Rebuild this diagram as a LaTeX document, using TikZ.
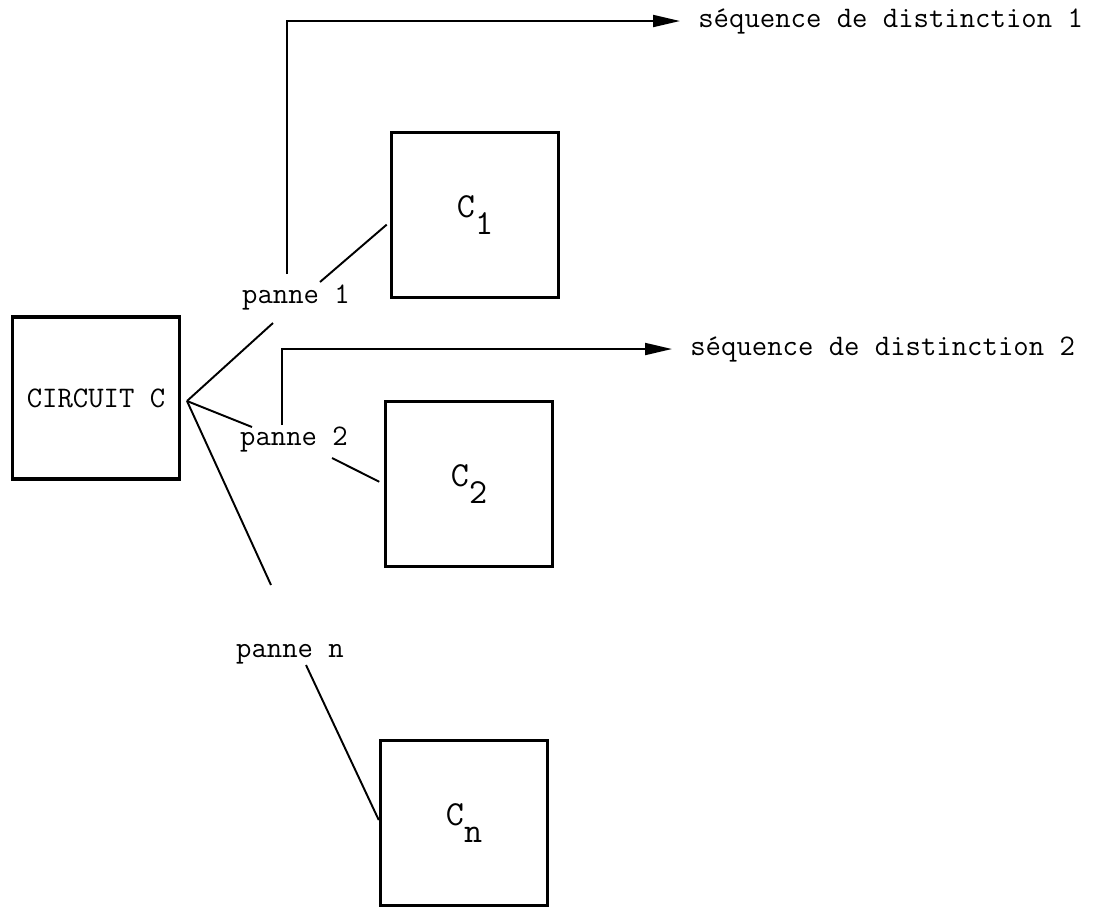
\documentclass[tikz,border=0pt]{standalone}
\usetikzlibrary{arrows.meta}
\newcommand{\lowidx}[1]{\raisebox{-1.1ex}{#1}}
\begin{document}
\begin{tikzpicture}[x=0.02cm,y=-0.02cm,
    font=\ttfamily\fontsize{17}{20}\selectfont,
    box/.style={draw, line width=2pt, minimum width=3.34cm, minimum height=3.3cm, inner sep=0pt},
    boxlbl/.style={font=\ttfamily\fontsize{20}{22}\selectfont},
    link/.style={line width=1.1pt},
    seqarrow/.style={line width=1.1pt, -{Triangle[length=0.54cm,width=0.24cm]}, shorten >=0.36cm},
    lbl/.style={anchor=base, inner sep=0pt}]

    \useasboundingbox (0,0) rectangle (1114,907);

    \node [box, minimum height=3.24cm] (circuit) at (96,398) {CIRCUIT C};
    \node [box, boxlbl] (c1) at (475,215) {C\lowidx{1}};
    \node [box, boxlbl] (c2) at (469,484) {C\lowidx{2}};
    \node [box, boxlbl] (cn) at (464,823) {C\lowidx{n}};

    \node [lbl] (p1) at (296,303) {panne 1};
    \node [lbl] (p2) at (294,445) {panne 2};
    \node [lbl] (pn) at (290,657) {panne n};

    \node [anchor=base west, inner sep=0pt] (seq1) at (698,27) {séquence de distinction 1};
    \node [anchor=base west, inner sep=0pt] (seq2) at (690,355) {séquence de distinction 2};

    \coordinate (fork) at (187,401);
    \coordinate (r1) at (273,323);
    \coordinate (r2) at (252,427);
    \coordinate (rn) at (271,585);
    \coordinate (q1) at (320,282);
    \coordinate (q2) at (332,458);
    \coordinate (qn) at (306,665);
    \coordinate (s1) at (287,274);
    \coordinate (s2) at (282,425);

    \draw [link] (fork) -- (r1);
    \draw [link] (fork) -- (r2);
    \draw [link] (fork) -- (rn);

    \draw [link, shorten >=0.08cm] (q1) -- ([yshift=-0.14cm]c1.west);
    \draw [link, shorten >=0.1cm] (q2) -- (c2.west);
    \draw [link] (qn) -- ([yshift=0.06cm]cn.west);

    \draw [seqarrow] (s1) |- (seq1.west);
    \draw [seqarrow] (s2) |- (seq2.west);

\end{tikzpicture}
\end{document}
